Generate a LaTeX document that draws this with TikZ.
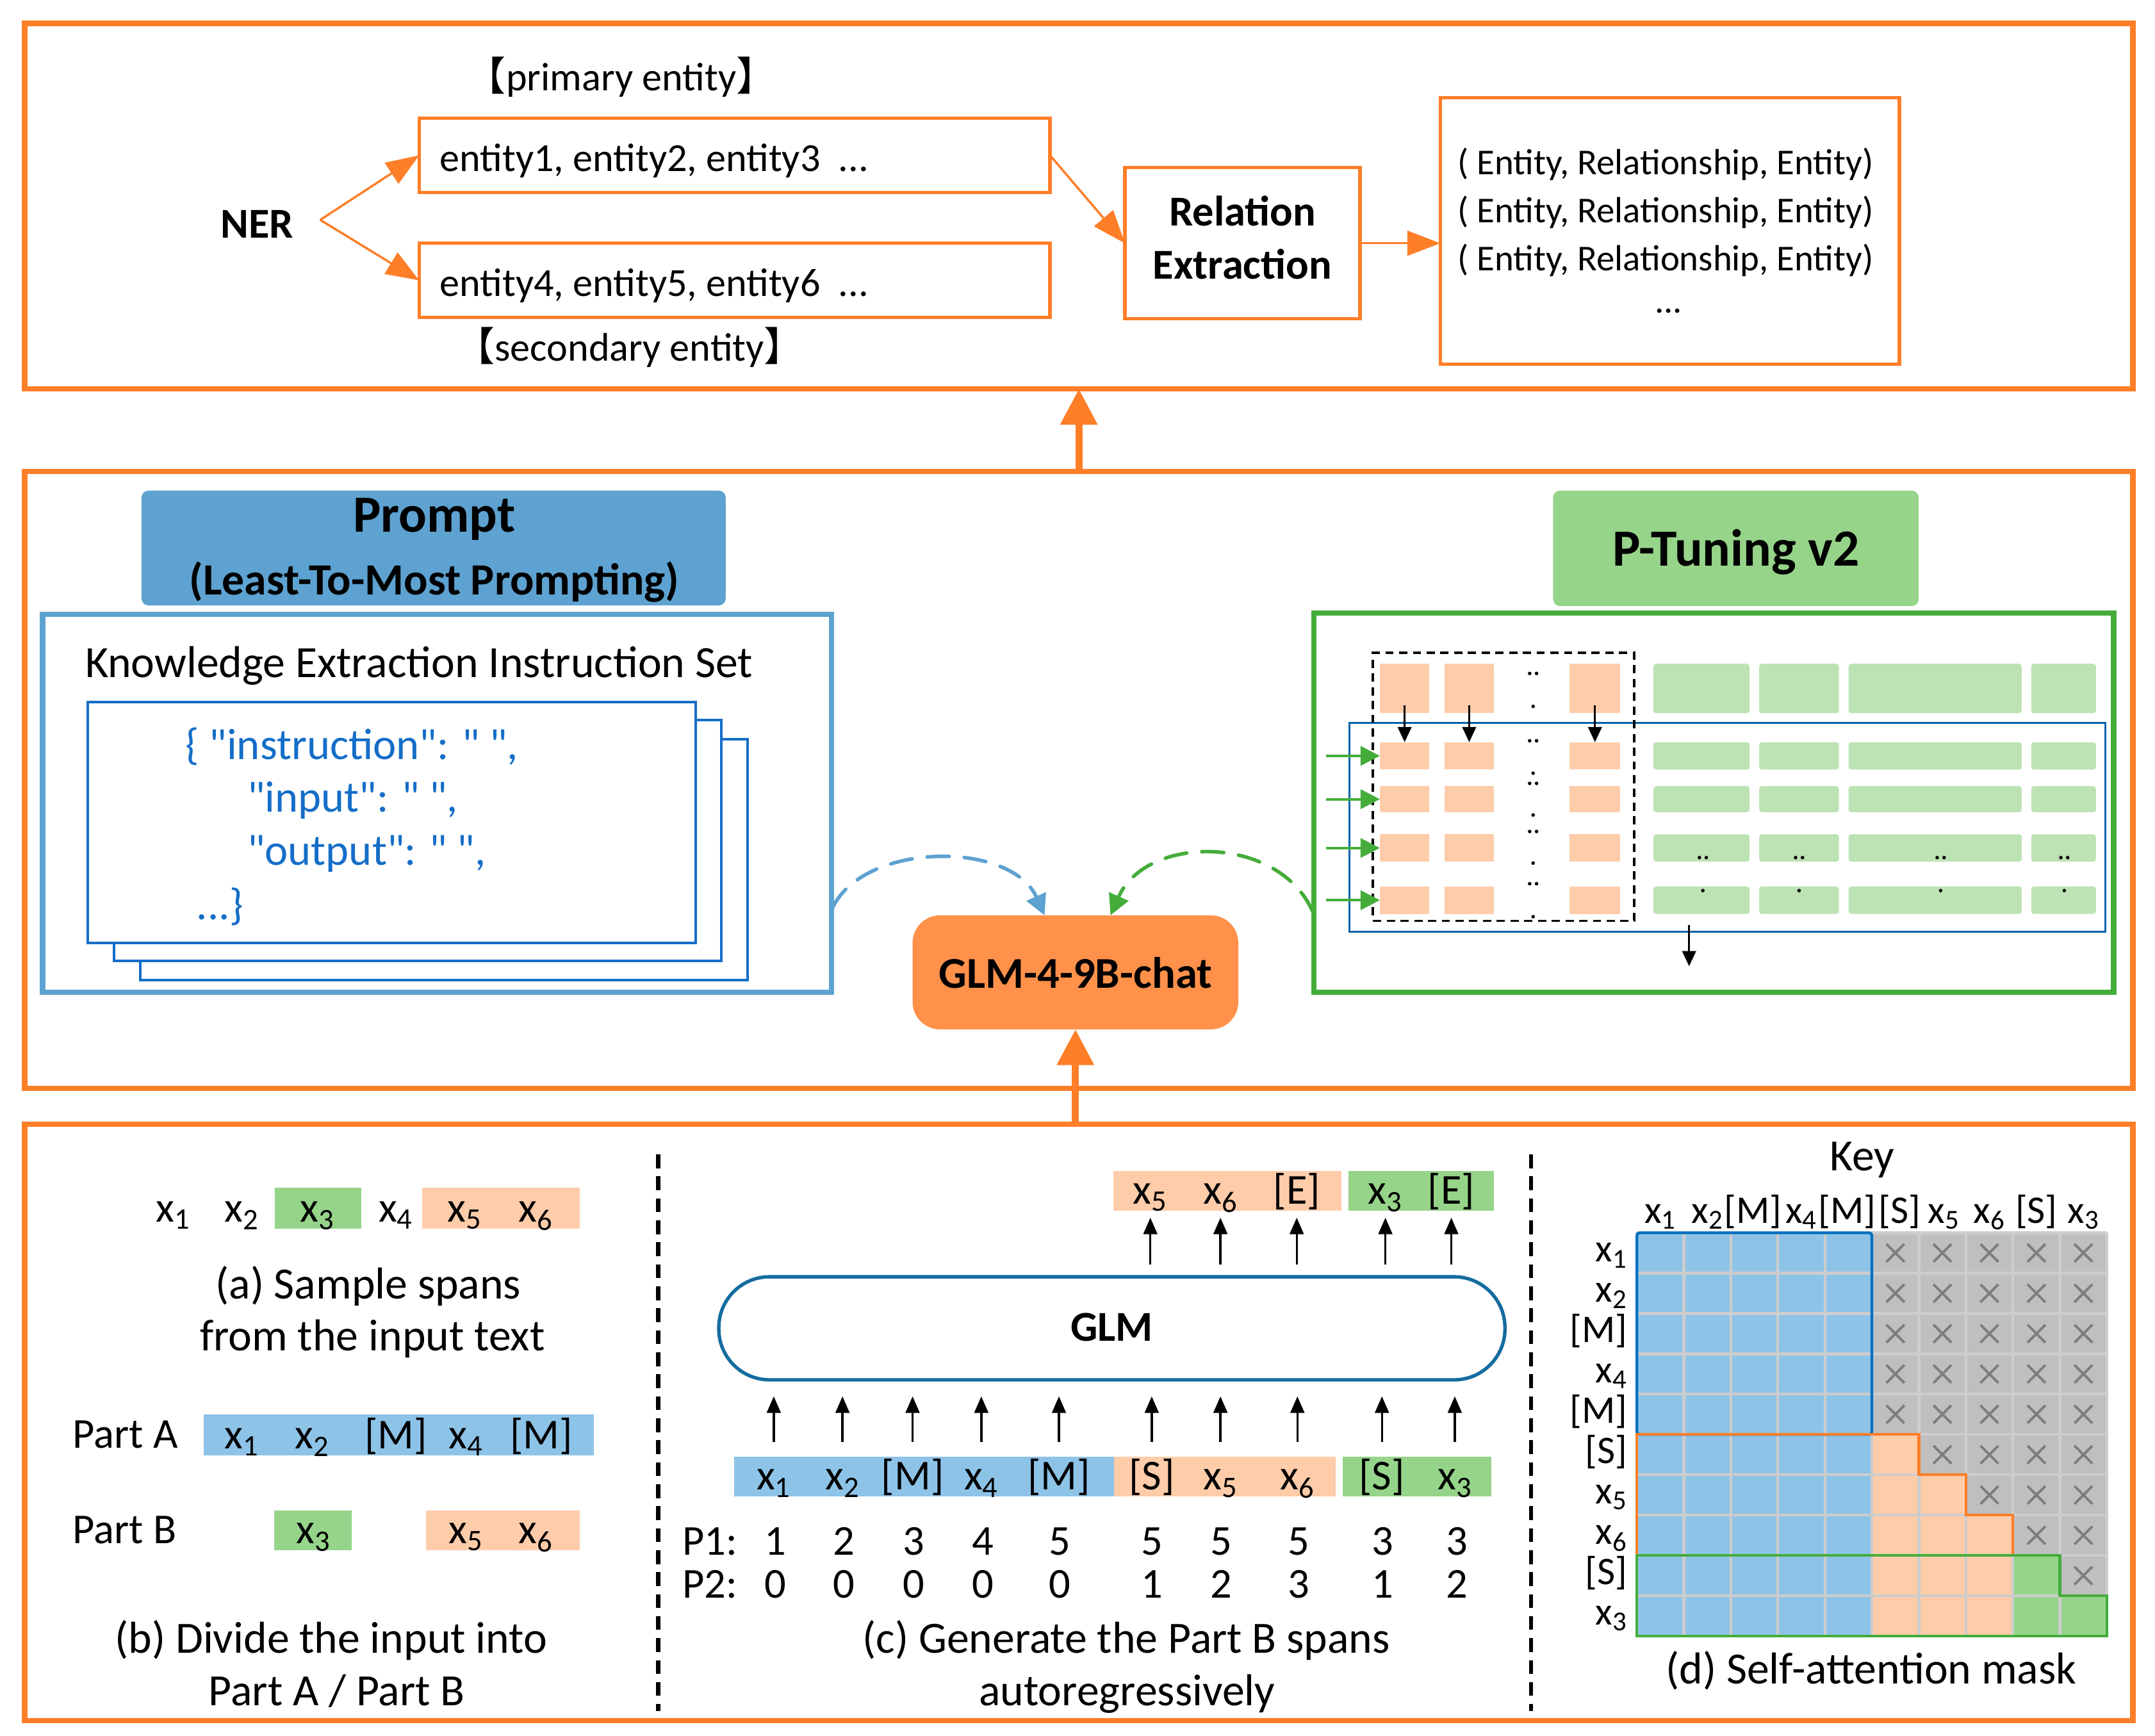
\documentclass[tikz,border=0pt]{standalone}
\usepackage{fontspec}
\setmainfont{Carlito}
\newfontfamily\jsonfont{Carlito}[Ligatures=TeXOff]
\newfontfamily\cjkfont{Noto Sans CJK SC}
\usetikzlibrary{arrows.meta,calc}
\definecolor{orf}{RGB}{255,126,40}
\definecolor{glmfill}{RGB}{255,145,75}
\definecolor{pblue}{RGB}{93,162,208}
\definecolor{dblue}{RGB}{20,110,200}
\definecolor{pgreen}{RGB}{150,212,138}
\definecolor{gframe}{RGB}{68,173,58}
\definecolor{peach}{RGB}{255,204,170}
\definecolor{lgreen}{RGB}{189,227,180}
\definecolor{cblue}{RGB}{142,195,232}
\definecolor{cgray}{RGB}{191,191,191}
\definecolor{gridc}{RGB}{205,205,205}
\definecolor{xgray}{RGB}{125,125,125}
\definecolor{glmline}{RGB}{20,108,160}
\definecolor{tblue}{RGB}{0,100,170}
\definecolor{mblue}{RGB}{0,112,192}
\newcommand\tokx[1]{x\textsubscript{#1}}
\begin{document}
\begin{tikzpicture}[x=1pt,y=-1pt,
 every node/.style={inner sep=0pt,outer sep=0pt},
 at box/.style n args={4}{anchor=north west,at={(#1,#2)},minimum width={#3-#1},minimum height={#4-#2}},
 f31/.style={font=\fontsize{31}{38}\selectfont},
 f32/.style={font=\fontsize{32.5}{38}\selectfont},
 f28/.style={font=\fontsize{28.5}{34}\selectfont},
 f29/.style={font=\fontsize{29}{35}\selectfont},
 f26/.style={font=\fontsize{26.5}{35}\selectfont},
 b31/.style={font=\fontsize{31}{38}\selectfont\bfseries},
 b38/.style={font=\fontsize{38}{44}\selectfont\bfseries},
 bl/.style={anchor=base},
 blw/.style={anchor=base west},
 panel/.style={draw=orf,line width=4pt},
 ebox/.style={draw=orf,line width=2.5pt},
 oarrow/.style={draw=orf,line width=1.6pt,-{Triangle[length=24pt,width=18pt]}},
 bigarrow/.style={draw=orf,line width=5pt,-{Triangle[length=26pt,width=26pt]}},
 stack/.style={draw=dblue,fill=white,line width=1.8pt},
 kar/.style={draw=black,line width=1.2pt,-{Triangle[length=11pt,width=10pt]}},
 gar/.style={draw=gframe,line width=1.8pt,-{Triangle[length=14pt,width=14pt]}},
 uar/.style={draw=black,line width=1.6pt,-{Triangle[length=12pt,width=10pt]}},
 sepline/.style={draw=black,line width=3pt,dash pattern=on 10pt off 6pt},
 xmark/.style={draw=xgray,line width=1.8pt},
 gridl/.style={draw=gridc,line width=2pt},
]
\useasboundingbox (0,0) rectangle (1568,1263);
\fill[white] (0,0) rectangle (1568,1263);

% ---------- panels ----------
\node[panel,at box={18}{17}{1552}{283}] (p1) {};
\node[panel,at box={18}{343}{1552}{792}] (p2) {};
\node[panel,at box={18}{818}{1552}{1252}] (p3) {};

% ---------- top panel ----------
\node[b31,bl] (ner) at (187,173) {NER};
\coordinate (nerap) at (233,160);
\node[f29,bl] (prim) at (452,66) {{\cjkfont 【}primary entity{\cjkfont 】}};
\node[ebox,at box={305}{86}{764}{140}] (e1) {};
\node[f29,blw] (e1t) at (320,124.6) {entity1, entity2, entity3~~...};
\node[ebox,at box={305}{177}{764}{231}] (e2) {};
\node[f29,blw] (e2t) at (320,215.5) {entity4, entity5, entity6~~...};
\node[f29,bl] (sec) at (458,262.5) {{\cjkfont 【}secondary entity{\cjkfont 】}};
\draw[oarrow] (nerap) -- (e1.west);
\draw[oarrow] (nerap) -- (e2.west);
\node[ebox,at box={818.5}{122}{989.5}{232}] (rel) {};
\node[b31,bl] (rel1) at (904,164.5) {Relation};
\node[b31,bl] (rel2) at (904,203) {Extraction};
\draw[oarrow] (e1.east) -- (rel.west);
\node[ebox,at box={1048}{71}{1382}{265}] (res) {};
\foreach \i/\yy in {1/127,2/162,3/197}
  \node[f26,bl] (res\i) at (1212,\yy) {( Entity, Relationship, Entity)};
\node[f26,bl] (res4) at (1214,227.5) {...};
\draw[oarrow] (rel.east) -- (rel.east -| res.west);

% ---------- middle panel ----------
\node[fill=pblue,rounded corners=5pt,at box={103}{357}{528}{440.5}] (prompt) {};
\node[b38,bl] (prompt1) at (316,387) {Prompt};
\node[font=\fontsize{32.5}{38}\selectfont\bfseries,bl] (prompt2) at (316,433) {(Least-To-Most Prompting)};
\node[draw=pblue,line width=4pt,at box={31}{447}{605}{722}] (kbox) {};
\node[f32,blw] (ktitle) at (62,492.7) {Knowledge Extraction Instruction Set};
\node[stack,at box={102}{538}{544}{713}] (st3) {};
\node[stack,at box={83}{524}{525}{699}] (st2) {};
\node[stack,at box={64}{511}{506}{686}] (st1) {};
\begin{scope}[every node/.append style={font=\jsonfont\fontsize{32}{38}\selectfont,blw,text=dblue}]
\node (j1) at (135,552.8) {\{ "instruction": " ",};
\node (j2) at (180,591) {"input": " ",};
\node (j3) at (180,629.7) {"output": " ",};
\node (j4) at (143,669) {...\}};
\end{scope}

\node[fill=glmfill,rounded corners=20pt,at box={664}{666}{901}{749}] (glm) {};
\node[font=\fontsize{32}{38}\selectfont\bfseries,bl] (glmt) at (782.5,719) {GLM-4-9B-chat};

\node[fill=pgreen,rounded corners=5pt,at box={1130}{357}{1396}{441}] (ptune) {};
\node[b38,bl] (ptunet) at (1263,411.6) {P-Tuning v2};
\node[draw=gframe,line width=4pt,at box={956}{446}{1538}{722}] (gbox) {};

\coordinate (bstart) at ($(kbox.south east)+(1,-62)$);
\coordinate (bend) at ($(glm.north)+(-22.5,0)$);
\draw[draw=pblue,line width=2.6pt,line cap=round,dash pattern=on 16pt off 11pt,-{Triangle[length=15pt,width=15pt]}]
  (bstart) .. controls (630,612) and (736,612) .. (bend);
\coordinate (gstart) at ($(gbox.south west)+(-1,-59)$);
\coordinate (gend) at ($(glm.north)+(25.5,0)$);
\draw[draw=gframe,line width=2.6pt,line cap=round,dash pattern=on 16pt off 11pt,-{Triangle[length=15pt,width=15pt]}]
  (gstart) .. controls (930,607) and (834,607) .. (gend);

% P-tuning internals
\foreach \r/\ya/\yb in {1/483/519,2/540/560,3/572/591,4/607/627,5/645/665}{
  \foreach \c/\xa/\xb in {1/1004/1040,2/1051/1087,3/1142/1179}
    \node[fill=peach,at box={\xa}{\ya}{\xb}{\yb}] (o\r\c) {};
  \foreach \c/\xa/\xb in {1/1203/1273,2/1280/1338,3/1345/1471,4/1478/1525}
    \node[fill=lgreen,rounded corners=2pt,at box={\xa}{\ya}{\xb}{\yb}] (g\r\c) {};
}
\node[draw=tblue,line width=1.5pt,at box={982}{526}{1532}{678}] (trect) {};
\node[draw=black,line width=1.8pt,dash pattern=on 6pt off 4pt,at box={999}{475}{1189}{670}] (drect) {};
\foreach \c in {1,2,3}
  \draw[kar] ($(o1\c.south)+(0,-6)$) -- (o2\c.north);
\foreach \r in {2,3,4,5}
  \draw[gar] ($(o\r1.west)+(-39,0)$) -- (o\r1.west);
\coordinate (pdA) at (1229,673);
\coordinate (pdB) at (1229,703);
\draw[kar] (pdA) -- (pdB);
\foreach \yy in {490,539,570,605,643}{
  \fill (1113,\yy) circle[radius=1.3pt];
  \fill (1118,\yy) circle[radius=1.3pt];
}
\foreach \yy in {514,562.6,593,628,667}
  \fill (1115.5,\yy) circle[radius=1.3pt];
\foreach \xx in {1239,1309,1412,1502}{
  \fill (\xx-2.5,624) circle[radius=1.3pt];
  \fill (\xx+2.5,624) circle[radius=1.3pt];
  \fill (\xx,648) circle[radius=1.3pt];
}

% big arrows
\draw[bigarrow] (p2.north) -- (p1.south);
\draw[bigarrow] (p3.north -| glm.south) -- (glm.south);

% ---------- bottom panel ----------
\coordinate (s1a) at (479,840); \coordinate (s1b) at (479,1245);
\coordinate (s2a) at (1114,840); \coordinate (s2b) at (1114,1245);
\draw[sepline] (s1a) -- (s1b);
\draw[sepline] (s2a) -- (s2b);

% (a)
\node[fill=pgreen,at box={200}{864}{263}{894}] (a3box) {};
\node[fill=peach,at box={307}{864}{422}{894}] (a56box) {};
\foreach \xx/\lab [count=\k] in {126/\tokx{1},176/\tokx{2},231/\tokx{3},288/\tokx{4},338/\tokx{5},390/\tokx{6}}
  \node[f31,bl] (at\k) at (\xx,889) {\lab};
\node[f32,bl] (capa1) at (268,945) {(a) Sample spans};
\node[f32,bl] (capa2) at (271,983) {from the input text};

% (b)
\node[f31,blw] (pa) at (53,1053.5) {Part A};
\node[fill=cblue,at box={148}{1029}{432}{1059}] (pabar) {};
\foreach \xx/\lab [count=\k] in {176/\tokx{1},227/\tokx{2},288/{[M]},339/\tokx{4},394/{[M]}}
  \node[f31,bl] (pat\k) at (\xx,1054) {\lab};
\node[f31,blw] (pb) at (53,1123) {Part B};
\node[fill=pgreen,at box={199.5}{1099}{256}{1128}] (pb3) {};
\node[fill=peach,at box={310}{1099}{422}{1128}] (pb56) {};
\foreach \xx/\lab [count=\k] in {228/\tokx{3},339/\tokx{5},390/\tokx{6}}
  \node[f31,bl] (pbt\k) at (\xx,1123) {\lab};
\node[f32,bl] (capb1) at (241,1202.6) {(b) Divide the input into};
\node[f32,bl] (capb2) at (245,1241) {Part A / Part B};

% (c)
\node[fill=peach,at box={810}{852}{976}{881}] (outp) {};
\node[fill=pgreen,at box={981}{852}{1087}{881}] (outg) {};
\foreach \xx/\lab [count=\k] in {837/\tokx{5},888/\tokx{6},943.5/{[E]},1008/\tokx{3},1056/{[E]}}
  \node[f31,bl] (out\k) at (\xx,876) {\lab};
\node[draw=glmline,line width=2.5pt,rounded corners=37pt,at box={523}{929}{1095}{1004}] (glmc) {};
\node[b31,bl] (glmct) at (809,976) {GLM};
\node[fill=cblue,at box={534}{1060}{810.5}{1089}] (inb) {};
\node[fill=peach,at box={810.5}{1060}{972}{1089}] (inp) {};
\node[fill=pgreen,at box={977}{1060}{1085}{1089}] (ing) {};
\foreach \xx/\lab [count=\k] in {563/\tokx{1},613/\tokx{2},664/{[M]},714/\tokx{4},770.5/{[M]},838/{[S]},888/\tokx{5},944/\tokx{6},1005.5/{[S]},1058.5/\tokx{3}}
  \node[f31,bl] (in\k) at (\xx,1084) {\lab};
\coordinate (lowA) at (0,1049); \coordinate (lowB) at (0,1016);
\coordinate (upA) at (0,920); \coordinate (upB) at (0,886);
\foreach \k in {1,...,10}
  \draw[uar] (in\k |- lowA) -- (in\k |- lowB);
\foreach \k in {1,...,5}
  \draw[uar] (out\k |- upA) -- (out\k |- upB);
\node[f31,blw] (p1l) at (496.5,1131.7) {P1:};
\node[f31,blw] (p2l) at (496.5,1162.5) {P2:};
\foreach \xx/\a/\b [count=\k] in {564/1/0,614/2/0,665/3/0,715/4/0,771/5/0,838/5/1,888.5/5/2,945/5/3,1006/3/1,1060/3/2}{
  \node[f31,bl] (pa\k) at (\xx,1131.7) {\a};
  \node[f31,bl] (pb\k) at (\xx,1162.5) {\b};
}
\node[f32,bl] (capc1) at (819.5,1203) {(c) Generate the Part B spans};
\node[f32,bl] (capc2) at (820,1241) {autoregressively};

% (d)
\node[f32,bl] (key) at (1355,851.6) {Key};
\fill[cblue] (1191,897) rectangle (1362,1190.5);
\fill[cgray] (1362,897) rectangle (1533,1043.75);
\fill[peach] (1362,1043.75) rectangle (1396.2,1073.1);
\fill[cgray] (1396.2,1043.75) rectangle (1533,1073.1);
\fill[peach] (1362,1073.1) rectangle (1430.4,1102.45);
\fill[cgray] (1430.4,1073.1) rectangle (1533,1102.45);
\fill[peach] (1362,1102.45) rectangle (1464.6,1190.5);
\fill[cgray] (1464.6,1102.45) rectangle (1533,1131.8);
\fill[pgreen] (1464.6,1131.8) rectangle (1498.8,1161.15);
\fill[cgray] (1498.8,1131.8) rectangle (1533,1161.15);
\fill[pgreen] (1464.6,1161.15) rectangle (1533,1190.5);
\foreach \i in {0,...,10}
  \draw[gridl] (1191,{897+\i*29.35}) -- (1533,{897+\i*29.35});
\foreach \j in {0,...,10}
  \draw[gridl] ({1191+\j*34.2},897) -- ({1191+\j*34.2},1190.5);
\foreach \i/\jmin in {0/5,1/5,2/5,3/5,4/5,5/6,6/7,7/8,8/9}
  \foreach \j in {\jmin,...,9}{
    \draw[xmark] ({1191+(\j+0.5)*34.2-6.5},{897+(\i+0.5)*29.35-6.5}) -- ++(13,13);
    \draw[xmark] ({1191+(\j+0.5)*34.2+6.5},{897+(\i+0.5)*29.35-6.5}) -- ++(-13,13);
  }
\draw[draw=mblue,line width=2pt,rounded corners=2pt] (1191,897) rectangle (1362,1043.75);
\draw[draw=orf,line width=2pt] (1191,1043.75) -- (1396.2,1043.75) -- (1396.2,1073.1) -- (1430.4,1073.1) -- (1430.4,1102.45) -- (1464.6,1102.45) -- (1464.6,1131.8) -- (1191,1131.8) -- cycle;
\draw[draw=gframe,line width=2pt] (1191,1131.8) -- (1498.8,1131.8) -- (1498.8,1161.15) -- (1533,1161.15) -- (1533,1190.5) -- (1191,1190.5) -- cycle;
\foreach \j/\lab/\dx in {0/\tokx{1}/0,1/\tokx{2}/0,2/{[M]}/-1,3/\tokx{4}/0,4/{[M]}/-1,5/{[S]}/3,6/\tokx{5}/1,7/\tokx{6}/0,8/{[S]}/0,9/\tokx{3}/0}
  \node[f28,bl] (ck\j) at ({1191+(\j+0.5)*34.2+\dx},890) {\lab};
\foreach \i/\lab in {0/\tokx{1},1/\tokx{2},2/{[M]},3/\tokx{4},4/{[M]},5/{[S]},6/\tokx{5},7/\tokx{6},8/{[S]},9/\tokx{3}}
  \node[f28,anchor=base east] (rk\i) at (1184,{897+(\i+0.5)*29.35+6.5}) {\lab};
\node[f32,bl] (capd) at (1361.5,1225) {(d) Self-attention mask};
\end{tikzpicture}
\end{document}
